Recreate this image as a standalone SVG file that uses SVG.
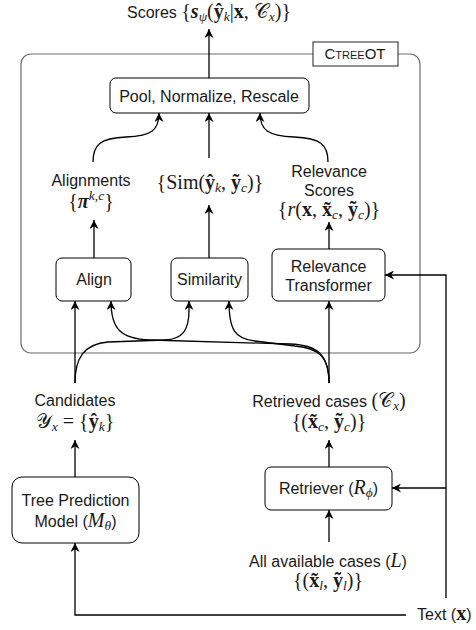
<svg xmlns="http://www.w3.org/2000/svg" width="476" height="630" viewBox="0 0 476 630">
<defs>
<marker id="arr" viewBox="0 0 10 10" refX="10" refY="5" markerWidth="9" markerHeight="9" markerUnits="userSpaceOnUse" orient="auto">
<path d="M0,0 L10,5 L0,10 L3,5 Z" fill="#000"/>
</marker>
</defs>
<style>
.s{font-family:"Liberation Sans",Arial,sans-serif;font-size:16px;fill:#1a1a1a}
.m{font-family:"Liberation Serif","DejaVu Serif",serif;font-size:20px;fill:#1a1a1a}
.i{font-style:italic}
.b{font-weight:bold}
.bi{font-weight:bold;font-style:italic}
.sub{font-size:13.5px}
.box{fill:#fff;stroke:#000;stroke-width:1}
.cn{fill:none;stroke:#000;stroke-width:1.3;marker-end:url(#arr)}
</style>
<g id="container">
<rect x="21" y="54" width="399" height="299" rx="10" fill="none" stroke="#6b6b6b" stroke-width="1.2"/>
<rect x="313" y="42" width="85" height="24" fill="#fff" stroke="#222" stroke-width="1"/>
<text x="355" y="59" text-anchor="middle" style="font-family:'Liberation Sans',Arial,sans-serif;font-size:15px;fill:#1a1a1a">C<tspan style="font-size:11px">TREE</tspan>OT</text>
</g>
<g id="connectors">
<path class="cn" d="M209,78 L209,29"/>
<path class="cn" d="M93,162 C93,145 100,138 126,137 C152,136 159,130 159,113"/>
<path class="cn" d="M209,158 L209,113"/>
<path class="cn" d="M328,162 C328,145 321,138 294,137 C268,136 260,130 260,113"/>
<path class="cn" d="M94,258 L94,220"/>
<path class="cn" d="M209,258 L209,205"/>
<path class="cn" d="M329,249 L329,222"/>
<path class="cn" d="M75,383 L75,301"/>
<path class="cn" d="M75,383 C75,358 84,344 108,342 L165,340 C183,339 189,330 189,310 L189,301"/>
<path class="cn" d="M329,383 C329,355 318,345 290,344 L150,340 C120,339 111,328 111,301"/>
<path class="cn" d="M329,383 C329,358 320,348 295,346 L255,341 C235,339 229,330 229,301"/>
<path class="cn" d="M329,383 L329,301"/>
<path class="cn" d="M75,477 L75,440"/>
<path class="cn" d="M329,467 L329,440"/>
<path class="cn" d="M329,542 L329,510"/>
<path class="cn" d="M406,615 L75,615 L75,543"/>
<path class="cn" d="M446,598 L446,275 L385,275"/>
<path class="cn" d="M446,488 L392,488"/>
</g>
<g id="scores">
<text x="209" y="18" text-anchor="middle"><tspan class="s">Scores </tspan><tspan class="m">{</tspan><tspan class="m bi">s</tspan><tspan class="m i sub" dy="3">ψ</tspan><tspan class="m" dy="-3">(</tspan><tspan class="m b">ŷ</tspan><tspan class="m i sub" dy="3">k</tspan><tspan class="m" dy="-3">|</tspan><tspan class="m b">x</tspan><tspan class="m">, </tspan><tspan class="m">𝒞</tspan><tspan class="m i sub" dy="3">x</tspan><tspan class="m" dy="-3">)}</tspan></text>
</g>
<g id="pool">
<rect class="box" x="110" y="78" width="199" height="35" rx="6"/>
<text class="s" x="209" y="101.5" text-anchor="middle">Pool, Normalize, Rescale</text>
</g>
<g id="alignments">
<text class="s" x="91" y="186" text-anchor="middle">Alignments</text>
<text x="91" y="208" text-anchor="middle"><tspan class="m">{</tspan><tspan class="m bi">π</tspan><tspan class="m i sub" dy="-8">k,c</tspan><tspan class="m" dy="8">}</tspan></text>
</g>
<g id="similarities">
<text x="210" y="189" text-anchor="middle"><tspan class="m">{Sim(</tspan><tspan class="m b">ŷ</tspan><tspan class="m i sub" dy="3">k</tspan><tspan class="m" dy="-3">, </tspan><tspan class="m b">ỹ</tspan><tspan class="m i sub" dy="3">c</tspan><tspan class="m" dy="-3">)}</tspan></text>
</g>
<g id="relevance-scores">
<text class="s" x="329" y="177" text-anchor="middle">Relevance</text>
<text class="s" x="329" y="196" text-anchor="middle">Scores</text>
<text x="329" y="216" text-anchor="middle"><tspan class="m">{</tspan><tspan class="m i">r</tspan><tspan class="m">(</tspan><tspan class="m b">x</tspan><tspan class="m">, </tspan><tspan class="m b">x&#x303;</tspan><tspan class="m i sub" dy="3">c</tspan><tspan class="m" dy="-3">, </tspan><tspan class="m b">ỹ</tspan><tspan class="m i sub" dy="3">c</tspan><tspan class="m" dy="-3">)}</tspan></text>
</g>
<g id="align">
<rect class="box" x="56" y="258" width="75" height="43" rx="6"/>
<text class="s" x="94" y="285" text-anchor="middle">Align</text>
</g>
<g id="similarity">
<rect class="box" x="171" y="258" width="77" height="43" rx="6"/>
<text class="s" x="209.5" y="285" text-anchor="middle">Similarity</text>
</g>
<g id="relevance-transformer">
<rect class="box" x="272" y="249" width="113" height="52" rx="6"/>
<text class="s" x="328.5" y="272" text-anchor="middle">Relevance</text>
<text class="s" x="328.5" y="291" text-anchor="middle">Transformer</text>
</g>
<g id="candidates">
<text class="s" x="75" y="406" text-anchor="middle">Candidates</text>
<text x="75" y="428" text-anchor="middle"><tspan class="m">𝒴</tspan><tspan class="m i sub" dy="3">x</tspan><tspan class="m" dy="-3"> = {</tspan><tspan class="m b">ŷ</tspan><tspan class="m i sub" dy="3">k</tspan><tspan class="m" dy="-3">}</tspan></text>
</g>
<g id="retrieved-cases">
<text x="329" y="407" text-anchor="middle"><tspan class="s">Retrieved cases </tspan><tspan class="m">(𝒞</tspan><tspan class="m i sub" dy="3">x</tspan><tspan class="m" dy="-3">)</tspan></text>
<text x="329" y="428" text-anchor="middle"><tspan class="m">{(</tspan><tspan class="m b">x&#x303;</tspan><tspan class="m i sub" dy="3">c</tspan><tspan class="m" dy="-3">, </tspan><tspan class="m b">ỹ</tspan><tspan class="m i sub" dy="3">c</tspan><tspan class="m" dy="-3">)}</tspan></text>
</g>
<g id="tree-prediction-model">
<rect class="box" x="12" y="477" width="127" height="66" rx="10"/>
<text class="s" x="75.5" y="506" text-anchor="middle">Tree Prediction</text>
<text x="75.5" y="527" text-anchor="middle"><tspan class="s">Model (</tspan><tspan class="m i">M</tspan><tspan class="m i sub" dy="3">θ</tspan><tspan class="s" dy="-3">)</tspan></text>
</g>
<g id="retriever">
<rect class="box" x="265" y="467" width="127" height="43" rx="6"/>
<text x="328.5" y="494" text-anchor="middle"><tspan class="s">Retriever (</tspan><tspan class="m i">R</tspan><tspan class="m i sub" dy="3">ϕ</tspan><tspan class="s" dy="-3">)</tspan></text>
</g>
<g id="all-cases">
<text x="328" y="567" text-anchor="middle"><tspan class="s">All available cases (</tspan><tspan class="m i">L</tspan><tspan class="s">)</tspan></text>
<text x="328" y="587" text-anchor="middle"><tspan class="m">{(</tspan><tspan class="m b">x&#x303;</tspan><tspan class="m i sub" dy="3">l</tspan><tspan class="m" dy="-3">, </tspan><tspan class="m b">ỹ</tspan><tspan class="m i sub" dy="3">l</tspan><tspan class="m" dy="-3">)}</tspan></text>
</g>
<g id="text-input">
<text x="417" y="620"><tspan class="s">Text (</tspan><tspan class="m b">x</tspan><tspan class="s">)</tspan></text>
</g>
</svg>
